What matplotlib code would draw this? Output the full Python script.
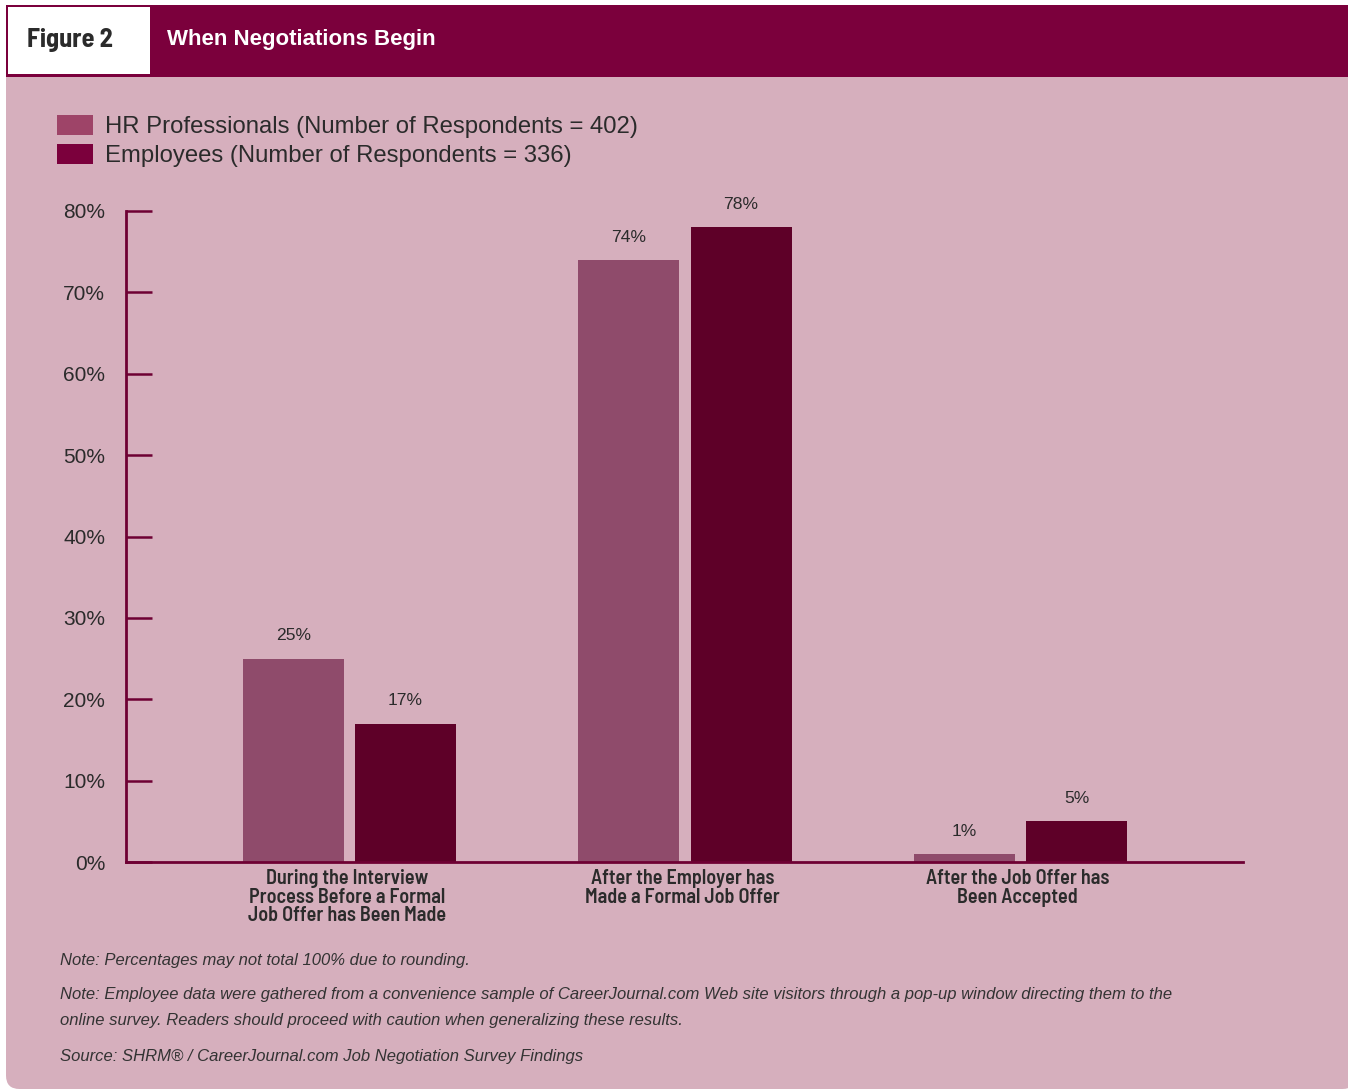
import matplotlib
matplotlib.use("Agg")
import matplotlib.pyplot as plt
from matplotlib.patches import Rectangle, FancyBboxPatch

W, H = 1348, 1089

categories = ["During the Interview\nProcess Before a Formal\nJob Offer has Been Made",
              "After the Employer has\nMade a Formal Job Offer",
              "After the Job Offer has\nBeen Accepted"]
series_names = ["HR Professionals (Number of Respondents = 402)",
                "Employees (Number of Respondents = 336)"]
hr_values = [25, 74, 1]
emp_values = [17, 78, 5]
yticks = [0, 10, 20, 30, 40, 50, 60, 70, 80]
ytick_labels = ["0%", "10%", "20%", "30%", "40%", "50%", "60%", "70%", "80%"]
title = "When Negotiations Begin"
fig_label = "Figure 2"
notes = ["Note: Percentages may not total 100% due to rounding.",
         "Note: Employee data were gathered from a convenience sample of CareerJournal.com Web site visitors through a pop-up window directing them to the",
         "online survey. Readers should proceed with caution when generalizing these results.",
         "Source: SHRM\u00ae / CareerJournal.com Job Negotiation Survey Findings"]

MAROON = "#7B003C"
PANEL = "#D6AFBD"
HR_C = "#8F4B6B"
LEG_HR = "#9E4468"
EMP_C = "#5E0028"
LEG_EMP = "#7B003C"
AXIS_C = "#6E0033"
TXT = "#2B2B2B"

REG = ["Liberation Sans", "DejaVu Sans"]
SEMI = ["Barlow Semi Condensed", "Liberation Sans", "DejaVu Sans"]

fig = plt.figure(figsize=(W / 100, H / 100), dpi=100, facecolor="white")

def fx(x):
    return x / W

def fy(y):
    return 1 - y / H

# panel
panel = FancyBboxPatch((fx(6), fy(1089)), fx(1356) - fx(6), fy(40) - fy(1089),
                       boxstyle="round,pad=0,rounding_size=0.010",
                       transform=fig.transFigure, facecolor=PANEL, edgecolor="none",
                       zorder=-2, mutation_aspect=W / H)
fig.patches.append(panel)
# header band
fig.patches.append(Rectangle((fx(6), fy(77)), fx(1350) - fx(6), fy(5) - fy(77),
                             transform=fig.transFigure, facecolor=MAROON,
                             edgecolor="none", zorder=-1))
fig.patches.append(Rectangle((fx(8), fy(74)), fx(150) - fx(8), fy(7) - fy(74),
                             transform=fig.transFigure, facecolor="white",
                             edgecolor="none", zorder=-0.5))
fig.text(fx(27), fy(40), fig_label, color=TXT, fontsize=19, fontweight="bold",
         family=SEMI, va="center", ha="left")
fig.text(fx(167), fy(40), title, color="white", fontsize=16, fontweight="bold",
         family=REG, va="center", ha="left")

# legend
for i, (name, col) in enumerate(zip(series_names, [LEG_HR, LEG_EMP])):
    yc = 125 + 29 * i
    fig.patches.append(Rectangle((fx(57), fy(yc + 10)), fx(93) - fx(57), fy(yc - 10) - fy(yc + 10),
                                 transform=fig.transFigure, facecolor=col,
                                 edgecolor="none", zorder=1))
    fig.text(fx(105), fy(yc + 2), name, color=TXT, fontsize=17.2, family=REG,
             va="center", ha="left")

# axes
ax = fig.add_axes([fx(126), fy(862), fx(1243) - fx(126), fy(211) - fy(862)])
ax.set_zorder(3)
ax.set_facecolor("none")
xs = list(range(len(categories)))
bw = 0.301
off = 0.167
b1 = ax.bar([x - off for x in xs], hr_values, width=bw, color=HR_C, zorder=2)
b2 = ax.bar([x + off for x in xs], emp_values, width=bw, color=EMP_C, zorder=2)
ax.set_xlim(-0.666, 2.663)
ax.set_ylim(0, 80)
for s in ["top", "right"]:
    ax.spines[s].set_visible(False)
for s in ["left", "bottom"]:
    ax.spines[s].set_color(AXIS_C)
    ax.spines[s].set_linewidth(2)
    ax.spines[s].set_zorder(3)
ax.set_yticks(yticks)
ax.set_yticklabels(ytick_labels, family=REG, fontsize=15, color=TXT)
ax.tick_params(axis="y", direction="in", length=19, width=1.8, color=AXIS_C, pad=15)
ax.set_xticks([])

for bars, vals in [(b1, hr_values), (b2, emp_values)]:
    for r, v in zip(bars, vals):
        ax.annotate(f"{v}%", (r.get_x() + r.get_width() / 2, v), xytext=(0, 11),
                    textcoords="offset points", ha="center", va="bottom",
                    fontsize=12.6, color=TXT, family=REG, annotation_clip=False)

for x, c in zip(xs, categories):
    ax.annotate(c, (x, 0), xytext=(-2, -5), textcoords="offset points",
                ha="center", va="top", fontsize=14.5, fontweight="semibold", color=TXT,
                family=SEMI, linespacing=0.98, annotation_clip=False)

for t, y in zip(notes, [960, 995, 1021, 1056]):
    fig.text(fx(60), fy(y), t, color="#333333", fontsize=12, style="italic",
             family=REG, va="center", ha="left")

fig.savefig("out.png", dpi=100, facecolor="white")
